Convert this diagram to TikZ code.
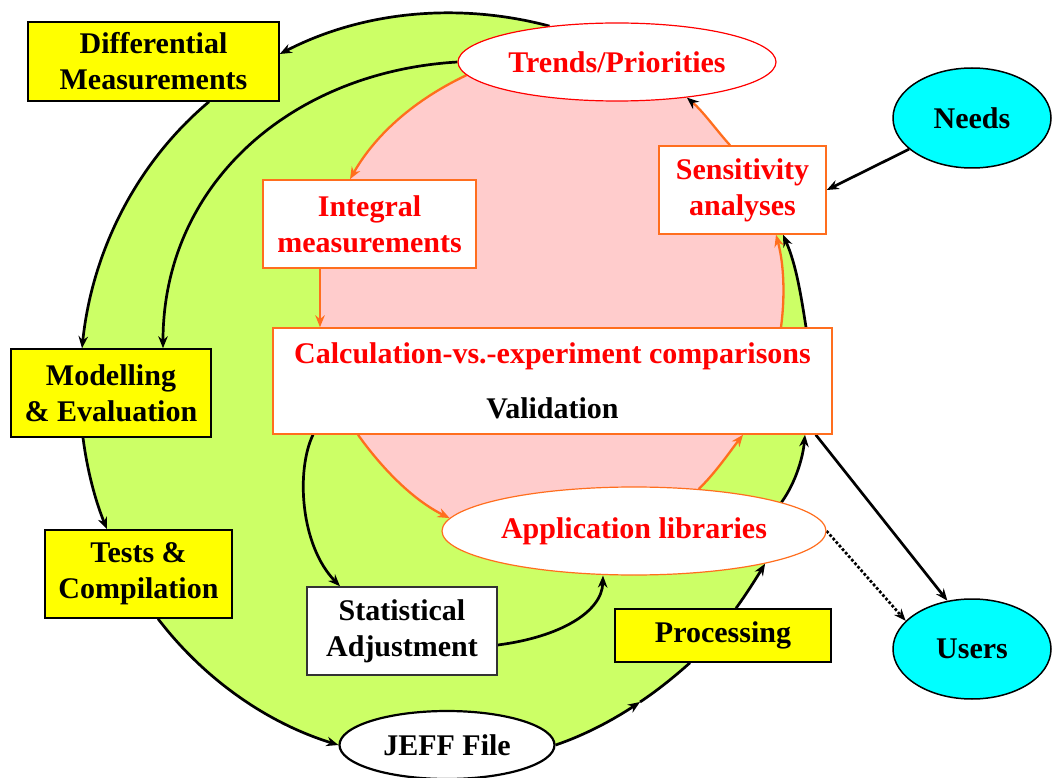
\documentclass[tikz,border=0pt]{standalone}
\usepackage{fontspec}
\setmainfont{Liberation Serif}
\usetikzlibrary{arrows.meta,shapes.geometric}
\definecolor{lgreen}{RGB}{204,255,102}
\definecolor{lpink}{RGB}{255,204,204}
\definecolor{yel}{RGB}{255,255,0}
\definecolor{cyn}{RGB}{0,255,255}
\definecolor{orng}{RGB}{255,110,30}
\definecolor{rd}{RGB}{255,0,0}
\pgfdeclarelayer{bg}
\pgfdeclarelayer{lines}
\pgfsetlayers{bg,lines,main}
\begin{document}
\begin{tikzpicture}[x=1pt,y=-1pt,
  every node/.style={font=\fontsize{30}{36}\selectfont\bfseries, align=center, inner sep=0pt},
  ybox/.style={rectangle, draw=black, line width=1.5pt, fill=yel, text=black},
  obox/.style={rectangle, draw=orng, line width=1.5pt, fill=white, text=rd},
  wbox/.style={rectangle, draw=black!80, line width=1.5pt, fill=white, text=black},
  oell/.style={ellipse, draw=orng, line width=1.2pt, fill=white, text=rd},
  cell/.style={ellipse, draw=black, line width=1.5pt, fill=cyn, text=black},
  blk/.style={draw=black, line width=2.7pt, -{Stealth[length=12pt,width=9.5pt]}},
  plain/.style={draw=black, line width=2.7pt},
  org/.style={draw=orng, line width=2.3pt, -{Stealth[length=12pt,width=9.5pt]}},
  orgb/.style={draw=orng, line width=2.3pt, -{Stealth[length=12pt,width=9.5pt,color=black]}}
]
\useasboundingbox (0,0) rectangle (1061,778);

% nodes
\node[ybox, minimum width=251pt, minimum height=79pt] (diff) at (153.5,61.5) {Differential\\Measurements};
\node[ellipse, draw=rd, line width=1.2pt, fill=white, text=rd, minimum width=318pt, minimum height=78pt] (trends) at (617,62) {Trends/Priorities};
\node[obox, minimum width=213pt, minimum height=88pt] (integ) at (369.5,224) {Integral\\measurements};
\node[obox, text=black, minimum width=559pt, minimum height=106pt, font=\fontsize{30}{55}\selectfont\bfseries] (calc) at (552.5,381) {\textcolor{rd}{Calculation-vs.-experiment comparisons}\\Validation};
\node[obox, minimum width=167pt, minimum height=88pt] (sens) at (742.5,190) {Sensitivity\\analyses};
\node[cell, minimum width=158pt, minimum height=100pt] (needs) at (972,118) {Needs};
\node[ybox, minimum width=200pt, minimum height=88pt] (mod) at (111,393) {Modelling\\\& Evaluation};
\node[ybox, minimum width=187pt, minimum height=88pt] (tests) at (138.5,574) {Tests \&\\Compilation};
\node[wbox, minimum width=190pt, minimum height=88pt] (stat) at (402,631) {Statistical\\Adjustment};
\node[ellipse, draw=black, line width=2.2pt, fill=white, text=black, minimum width=215pt, minimum height=68pt] (jeff) at (447,745) {JEFF File};
\node[oell, minimum width=384pt, minimum height=88pt] (app) at (634,531) {Application libraries};
\node[ybox, minimum width=216pt, minimum height=53pt] (proc) at (723,635.5) {Processing};
\node[cell, minimum width=158pt, minimum height=100pt] (users) at (972,649) {Users};
\coordinate (p1) at (640,702);

\begin{pgfonlayer}{bg}
  % green region bounded by the outer cycle
  \fill[lgreen] (trends.152) .. controls (459,2) and (363,11) .. ([yshift=7.5pt]diff.east)
    -- ([xshift=55.5pt]diff.south) .. controls (136,163) and (92,252) .. ([xshift=-29pt]mod.north)
    -- ([xshift=-28pt]mod.south) .. controls (87,469) and (95,500) .. ([xshift=-31.5pt]tests.north)
    -- ([xshift=19.5pt]tests.south) .. controls (204,679) and (267,723) .. (jeff.west)
    -- (jeff.east) .. controls (585,735) and (613,720) .. (p1)
    .. controls (657.6,690.3) and (674.4,676.7) .. ([xshift=-33pt]proc.south)
    -- ([xshift=13pt]proc.north) .. controls (746.6,593.7) and (756.5,577.8) .. (app.346)
    -- (app.11) .. controls (796,482) and (803,457) .. ([xshift=252.5pt]calc.south)
    -- ([xshift=253.5pt]calc.north) .. controls (801,295) and (796,264) .. ([xshift=40.5pt]sens.south)
    -- ([xshift=-12.5pt]sens.north) -- (trends.333) -- cycle;
  % pink region bounded by the inner cycle
  \fill[lpink] (trends.185) .. controls (415,99.6) and (375.7,134) .. ([xshift=-19.5pt]integ.north)
    -- ([xshift=-49.5pt]integ.south) -- ([xshift=-232.5pt]calc.north)
    -- ([xshift=-194.5pt]calc.south) .. controls (380.3,466.1) and (411.3,499.1) .. (app.176)
    -- (app.33) .. controls (715.2,473.3) and (730.3,451) .. ([xshift=190.5pt]calc.south)
    -- ([xshift=228.5pt]calc.north) .. controls (785.1,296.3) and (784.1,264.9) .. ([xshift=33.5pt]sens.south)
    -- ([xshift=-12.5pt]sens.north) .. controls (717.3,131.2) and (702.9,111.2) .. (trends.333)
    -- cycle;
\end{pgfonlayer}

\begin{pgfonlayer}{lines}
  % outer black cycle
  \draw[blk] (trends.152) .. controls (459,2) and (363,11) .. ([yshift=7.5pt]diff.east);
  \draw[blk] ([xshift=55.5pt]diff.south) .. controls (136,163) and (92,252) .. ([xshift=-29pt]mod.north);
  \draw[blk] (trends.west) .. controls (290,72) and (163,185) .. ([xshift=52pt]mod.north);
  \draw[blk] ([xshift=-28pt]mod.south) .. controls (87,469) and (95,500) .. ([xshift=-31.5pt]tests.north);
  \draw[blk] ([xshift=19.5pt]tests.south) .. controls (204,679) and (267,723) .. (jeff.west);
  \draw[blk] (jeff.east) .. controls (585,735) and (613,720) .. (p1);
  \draw[plain] (p1) .. controls (657.6,690.3) and (674.4,676.7) .. ([xshift=-33pt]proc.south);
  \draw[blk] ([xshift=13pt]proc.north) .. controls (746.6,593.7) and (756.5,577.8) .. (app.346);
  \draw[blk] (app.11) .. controls (796,482) and (803,457) .. ([xshift=252.5pt]calc.south);
  \draw[blk] ([xshift=253.5pt]calc.north) .. controls (801,295) and (796,264) .. ([xshift=40.5pt]sens.south);
  % inner black
  \draw[blk] ([xshift=-239.5pt]calc.south) .. controls (296,470) and (300,545) .. ([xshift=-62pt]stat.north);
  \draw[blk] ([yshift=-14pt]stat.east) .. controls (560,637) and (602,612) .. ([xshift=-31pt]app.south);
  % external
  \draw[blk] (needs) -- (sens.east);
  \draw[blk] ([xshift=-17pt]calc.south east) -- (users.117);
  \draw[blk, dotted] (app.east) -- (users.157);
  % orange cycle
  \draw[org] (trends.185) .. controls (415,99.6) and (375.7,134) .. ([xshift=-19.5pt]integ.north);
  \draw[org] ([xshift=-49.5pt]integ.south) -- ([xshift=-232.5pt]calc.north);
  \draw[org] ([xshift=-194.5pt]calc.south) .. controls (380.3,466.1) and (411.3,499.1) .. (app.176);
  \draw[org] (app.33) .. controls (715.2,473.3) and (730.3,451) .. ([xshift=190.5pt]calc.south);
  \draw[org] ([xshift=228.5pt]calc.north) .. controls (785.1,296.3) and (784.1,264.9) .. ([xshift=33.5pt]sens.south);
  \draw[orgb] ([xshift=-12.5pt]sens.north) .. controls (717.3,131.2) and (702.9,111.2) .. (trends.333);
\end{pgfonlayer}
\end{tikzpicture}
\end{document}
